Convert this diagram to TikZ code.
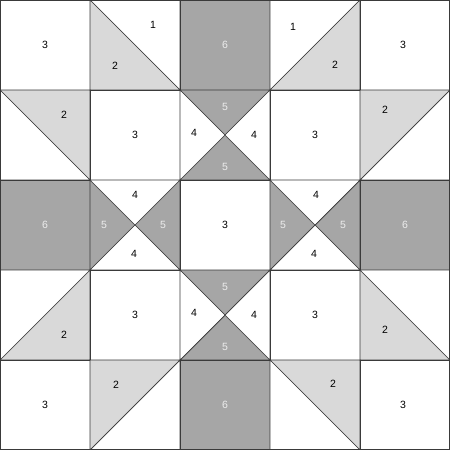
\documentclass[tikz,border=0pt]{standalone}
\usepackage{fontspec}
\setmainfont{Liberation Sans}
\definecolor{lightg}{HTML}{D9D9D9}
\definecolor{darkg}{HTML}{A6A6A6}
\definecolor{edgec}{HTML}{3A3A3A}
\begin{document}
\begin{tikzpicture}[x=1pt,y=-1pt,
  edge/.style={draw=edgec,line width=0.7pt,line join=round},
  lite/.style={edge,fill=lightg},
  dark/.style={edge,fill=darkg},
  plain/.style={edge,fill=white},
  num/.style={font=\fontsize{10.5}{12}\selectfont,text=black,inner sep=0pt},
  wnum/.style={num,text=white!93!black}]
\useasboundingbox (0,0) rectangle (450,450);
% row 0
\path[plain] (0,0) rectangle (90,90);
\path[plain] (90,0) -- (180,0) -- (180,90) -- cycle;
\path[lite] (90,0) -- (180,90) -- (90,90) -- cycle;
\path[dark] (180,0) rectangle (270,90);
\path[plain] (270,0) -- (360,0) -- (270,90) -- cycle;
\path[lite] (360,0) -- (360,90) -- (270,90) -- cycle;
\path[plain] (360,0) rectangle (450,90);
% row 1
\path[lite] (0,90) -- (90,90) -- (90,180) -- cycle;
\path[plain] (0,90) -- (90,180) -- (0,180) -- cycle;
\path[plain] (90,90) rectangle (180,180);
\path[dark] (180,90) -- (270,90) -- (225,135) -- cycle;
\path[dark] (180,180) -- (270,180) -- (225,135) -- cycle;
\path[plain] (180,90) -- (225,135) -- (180,180) -- cycle;
\path[plain] (270,90) -- (225,135) -- (270,180) -- cycle;
\path[plain] (270,90) rectangle (360,180);
\path[lite] (360,90) -- (450,90) -- (360,180) -- cycle;
\path[plain] (450,90) -- (450,180) -- (360,180) -- cycle;
% row 2
\path[dark] (0,180) rectangle (90,270);
\path[dark] (90,180) -- (135,225) -- (90,270) -- cycle;
\path[dark] (180,180) -- (135,225) -- (180,270) -- cycle;
\path[plain] (90,180) -- (180,180) -- (135,225) -- cycle;
\path[plain] (90,270) -- (180,270) -- (135,225) -- cycle;
\path[plain] (180,180) rectangle (270,270);
\path[dark] (270,180) -- (315,225) -- (270,270) -- cycle;
\path[dark] (360,180) -- (315,225) -- (360,270) -- cycle;
\path[plain] (270,180) -- (360,180) -- (315,225) -- cycle;
\path[plain] (270,270) -- (360,270) -- (315,225) -- cycle;
\path[dark] (360,180) rectangle (450,270);
% row 3
\path[lite] (90,270) -- (90,360) -- (0,360) -- cycle;
\path[plain] (0,270) -- (90,270) -- (0,360) -- cycle;
\path[plain] (90,270) rectangle (180,360);
\path[dark] (180,270) -- (270,270) -- (225,315) -- cycle;
\path[dark] (180,360) -- (270,360) -- (225,315) -- cycle;
\path[plain] (180,270) -- (225,315) -- (180,360) -- cycle;
\path[plain] (270,270) -- (225,315) -- (270,360) -- cycle;
\path[plain] (270,270) rectangle (360,360);
\path[lite] (360,270) -- (450,360) -- (360,360) -- cycle;
\path[plain] (360,270) -- (450,270) -- (450,360) -- cycle;
% row 4
\path[plain] (0,360) rectangle (90,450);
\path[lite] (90,360) -- (180,360) -- (90,450) -- cycle;
\path[plain] (180,360) -- (180,450) -- (90,450) -- cycle;
\path[dark] (180,360) rectangle (270,450);
\path[lite] (270,360) -- (360,360) -- (360,450) -- cycle;
\path[plain] (270,360) -- (360,450) -- (270,450) -- cycle;
\path[plain] (360,360) rectangle (450,450);
% outer border
\draw[edgec,line width=1pt] (0.5,0.5) rectangle (449.5,449.5);
% labels
\foreach \x/\y/\t [count=\i] in {45/45/3,115/66/2,153/25/1,293/27/1,335/65/2,403/45/3,
  64/115/2,135/135/3,194/133/4,254/135/4,315/135/3,385/110/2,
  135/195/4,134/254/4,225/225/3,316/195/4,314/254/4,
  64/335/2,135/315/3,194/313/4,254/315/4,315/315/3,385/330/2,
  45/405/3,116/385/2,333/384/2,403/405/3}
  \node[num] (b\i) at (\x,\y) {\t};
\foreach \x/\y/\t [count=\i] in {225/45/6,225/107/5,225/167/5,
  45/225/6,104/225/5,163/225/5,283/225/5,343/225/5,405/225/6,
  225/287/5,225/347/5,225/405/6}
  \node[wnum] (w\i) at (\x,\y) {\t};
\end{tikzpicture}
\end{document}
